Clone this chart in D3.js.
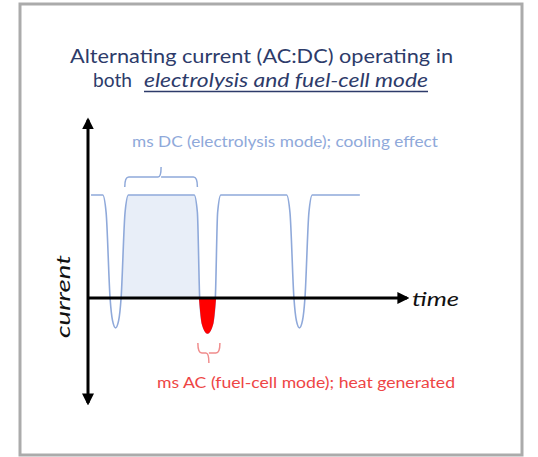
<!DOCTYPE html>
<html>
<head>
<meta charset="utf-8">
<script src="https://cdn.jsdelivr.net/npm/d3@7"></script>
<style>
  body { margin: 0; background: #fff; }
  svg text { font-family: Lato, "Open Sans", sans-serif; }
</style>
</head>
<body>
<div id="chart"></div>
<script>
// Waveform: time (one AC:DC cycle = 10 units) and current (DC level = 1)
var waveTime    = [0.33, 1.6, 1.97, 2.4, 2.67, 3, 3.33, 3.6, 4.03, 4.4,
                   11.55, 11.9, 12.15, 12.45, 13, 13.55, 13.85, 14.1, 14.45,
                   21.6, 21.97, 22.4, 22.67, 23, 23.33, 23.6, 24.03, 24.4, 29.57];
var waveCurrent = [1, 1, 0.83, 0, -0.22, -0.29, -0.22, 0, 0.83, 1,
                   1, 0.83, 0, -0.25, -0.34, -0.25, 0, 0.83, 1,
                   1, 0.83, 0, -0.22, -0.29, -0.22, 0, 0.83, 1, 1];

// Intervals marked with braces
var dcSpan = [4.0, 11.9];    // electrolysis (DC) stretch
var acSpan = [11.95, 14.35]; // fuel-cell (AC) stretch

var titleLines = ["Alternating current (AC:DC) operating in", "both", "electrolysis and fuel-cell mode"];
var dcLabel = "ms DC (electrolysis mode); cooling effect";
var acLabel = "ms AC (fuel-cell mode); heat generated";

var width = 538, height = 457;
var blue = "#8fa9da", red = "#ff0000";

var svg = d3.select("#chart").append("svg")
    .attr("width", width)
    .attr("height", height);

// frame
svg.append("rect")
    .attr("x", 20).attr("y", 4)
    .attr("width", 502).attr("height", 451)
    .attr("fill", "#fff")
    .attr("stroke", "#ababab")
    .attr("stroke-width", 3);

// scales
var x = d3.scaleLinear().domain([0, 34.7]).range([88, 407]);
var y = d3.scaleLinear().domain([0, 1]).range([298, 195]);

var wave = waveTime.map(function (t, i) { return { t: t, c: waveCurrent[i] }; });

// shaded DC block between dip 1 and the AC dip
var dcArea = d3.area()
    .x(function (d) { return x(d.t); })
    .y0(y(0))
    .y1(function (d) { return y(Math.max(0, d.c)); })
    .curve(d3.curveMonotoneX);

svg.append("path")
    .datum(wave.filter(function (d) { return d.t >= 3.6 && d.t <= 12.15; }))
    .attr("d", dcArea)
    .attr("fill", "#e8eef8");

// waveform
var line = d3.line()
    .x(function (d) { return x(d.t); })
    .y(function (d) { return y(d.c); })
    .curve(d3.curveMonotoneX);

svg.append("path")
    .datum(wave)
    .attr("d", line)
    .attr("fill", "none")
    .attr("stroke", blue)
    .attr("stroke-width", 1.6);

// red AC dip
var acArea = d3.area()
    .x(function (d) { return x(d.t); })
    .y0(y(0))
    .y1(function (d) { return y(Math.min(0, d.c)); })
    .curve(d3.curveMonotoneX);

svg.append("path")
    .datum(wave.filter(function (d) { return d.t >= 12.15 && d.t <= 13.85; }))
    .attr("d", acArea)
    .attr("fill", red)
    .attr("stroke", red)
    .attr("stroke-width", 1.5);

// axes with arrows
var defs = svg.append("defs");
defs.append("marker")
    .attr("id", "arrow")
    .attr("viewBox", "0 0 10 10")
    .attr("refX", 8).attr("refY", 5)
    .attr("markerWidth", 4).attr("markerHeight", 4)
    .attr("orient", "auto-start-reverse")
    .append("path")
    .attr("d", "M0,0 L10,5 L0,10 z")
    .attr("fill", "#000");

svg.append("line")
    .attr("x1", x(0)).attr("x2", x(0))
    .attr("y1", y(-1.02)).attr("y2", y(1.73))
    .attr("stroke", "#000").attr("stroke-width", 3)
    .attr("marker-start", "url(#arrow)")
    .attr("marker-end", "url(#arrow)");

svg.append("line")
    .attr("x1", x(0)).attr("x2", x(34.7))
    .attr("y1", y(0)).attr("y2", y(0))
    .attr("stroke", "#000").attr("stroke-width", 3)
    .attr("marker-end", "url(#arrow)");

svg.append("text")
    .attr("x", 412).attr("y", 306)
    .attr("font-size", 20).attr("font-style", "italic")
    .attr("textLength", 47).attr("lengthAdjust", "spacingAndGlyphs")
    .attr("fill", "#111")
    .text("time");

svg.append("text")
    .attr("transform", "translate(70,338) rotate(-90)")
    .attr("font-size", 20).attr("font-style", "italic")
    .attr("textLength", 83).attr("lengthAdjust", "spacingAndGlyphs")
    .attr("fill", "#111")
    .text("current");

// title
var titleColor = "#2d3b6a";
svg.append("text")
    .attr("x", 70).attr("y", 63)
    .attr("font-size", 19.5)
    .attr("textLength", 383).attr("lengthAdjust", "spacingAndGlyphs")
    .attr("fill", titleColor)
    .text(titleLines[0]);

svg.append("text")
    .attr("x", 93).attr("y", 87)
    .attr("font-size", 19.5)
    .attr("textLength", 39).attr("lengthAdjust", "spacingAndGlyphs")
    .attr("fill", titleColor)
    .text(titleLines[1]);

svg.append("text")
    .attr("x", 144).attr("y", 87)
    .attr("font-size", 19.5).attr("font-style", "italic")
    .attr("textLength", 284).attr("lengthAdjust", "spacingAndGlyphs")
    .attr("fill", titleColor)
    .text(titleLines[2]);

svg.append("line")
    .attr("x1", 144).attr("x2", 428)
    .attr("y1", 91.5).attr("y2", 91.5)
    .attr("stroke", titleColor).attr("stroke-width", 1.3);

// braces
function brace(x0, x1, yBar, dir) {
    // dir = -1: ends hang below, tick points up; dir = 1: ends rise, tick points down
    var xm = (x0 + x1) / 2, h = 10;
    return "M" + x0 + "," + (yBar - dir * h) +
        " Q" + x0 + "," + yBar + " " + (x0 + 4) + "," + yBar +
        " L" + (xm - 3) + "," + yBar +
        " Q" + xm + "," + yBar + " " + xm + "," + (yBar + dir * h) +
        " M" + xm + "," + yBar +
        " Q" + xm + "," + yBar + " " + (xm + 3) + "," + yBar +
        " L" + (x1 - 4) + "," + yBar +
        " Q" + x1 + "," + yBar + " " + x1 + "," + (yBar - dir * h);
}

svg.append("path")
    .attr("d", brace(x(dcSpan[0]), x(dcSpan[1]), 177, -1))
    .attr("fill", "none")
    .attr("stroke", blue)
    .attr("stroke-width", 1.5);

svg.append("path")
    .attr("d", brace(x(acSpan[0]), x(acSpan[1]), 353, 1))
    .attr("fill", "none")
    .attr("stroke", "#f08c8c")
    .attr("stroke-width", 1.5);

svg.append("text")
    .attr("x", 132).attr("y", 147)
    .attr("font-size", 15)
    .attr("textLength", 306).attr("lengthAdjust", "spacingAndGlyphs")
    .attr("fill", blue)
    .text(dcLabel);

svg.append("text")
    .attr("x", 157).attr("y", 388)
    .attr("font-size", 15.5)
    .attr("textLength", 298).attr("lengthAdjust", "spacingAndGlyphs")
    .attr("fill", "#ee4545")
    .text(acLabel);
</script>
</body>
</html>
